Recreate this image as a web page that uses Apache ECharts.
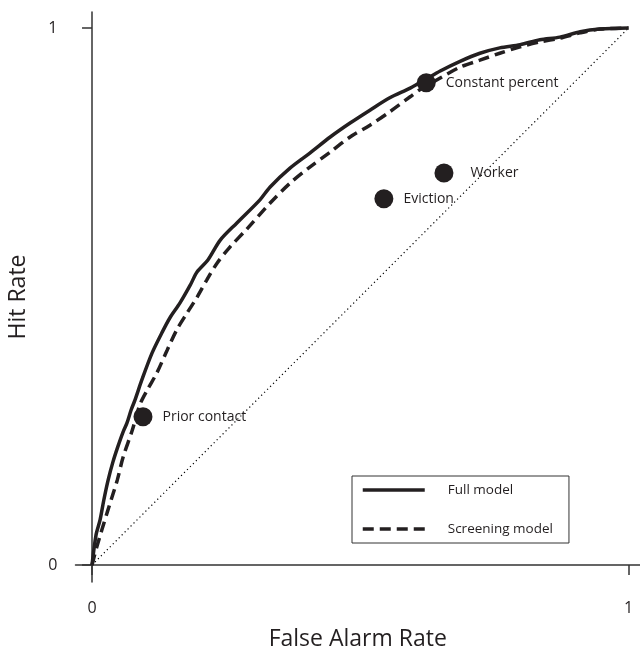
<!DOCTYPE html>
<html>
<head>
<meta charset="utf-8">
<script src="https://cdn.jsdelivr.net/npm/echarts@6/dist/echarts.min.js"></script>
<style>
  html, body { margin: 0; padding: 0; background: #fff; }
  #chart { width: 640px; height: 654px; }
</style>
</head>
<body>
<div id="chart"></div>
<script>
// ROC curves (false alarm rate, hit rate)
var fullX = [0, 0.0075, 0.015, 0.022, 0.030, 0.039, 0.048, 0.058, 0.065, 0.073, 0.080, 0.093, 0.112, 0.130, 0.145, 0.164, 0.183, 0.196, 0.216, 0.239, 0.270, 0.313, 0.332, 0.369, 0.406, 0.444, 0.481, 0.518, 0.555, 0.593, 0.623, 0.649, 0.686, 0.723, 0.760, 0.798, 0.835, 0.872, 0.910, 0.947, 1];
var fullY = [0, 0.056, 0.084, 0.121, 0.158, 0.192, 0.220, 0.248, 0.264, 0.289, 0.307, 0.345, 0.395, 0.432, 0.460, 0.488, 0.521, 0.546, 0.568, 0.605, 0.637, 0.680, 0.704, 0.739, 0.767, 0.797, 0.823, 0.847, 0.870, 0.888, 0.905, 0.920, 0.938, 0.953, 0.963, 0.969, 0.978, 0.983, 0.993, 0.998, 1];

var screenX = [0, 0.009, 0.028, 0.047, 0.058, 0.075, 0.089, 0.103, 0.121, 0.140, 0.158, 0.177, 0.196, 0.214, 0.233, 0.257, 0.289, 0.332, 0.369, 0.406, 0.444, 0.481, 0.518, 0.555, 0.593, 0.611, 0.649, 0.686, 0.723, 0.760, 0.798, 0.835, 0.872, 0.910, 0.947, 1];
var screenY = [0, 0.034, 0.097, 0.158, 0.201, 0.251, 0.298, 0.326, 0.358, 0.400, 0.438, 0.469, 0.499, 0.531, 0.562, 0.592, 0.626, 0.674, 0.711, 0.741, 0.769, 0.797, 0.819, 0.844, 0.872, 0.885, 0.907, 0.927, 0.940, 0.953, 0.965, 0.974, 0.981, 0.991, 0.998, 1];

var pointNames = ["Prior contact", "Eviction", "Worker", "Constant percent"];
var pointX = [0.095, 0.544, 0.656, 0.623];
var pointY = [0.276, 0.682, 0.730, 0.898];

var tickValues = [0, 1];
var seriesNames = ["Full model", "Screening model"];

var ink = "#231f20";
var font = "'Open Sans', 'Noto Sans', sans-serif";

function zip(xs, ys) {
  var out = [];
  for (var i = 0; i < xs.length; i++) out.push([xs[i], ys[i]]);
  return out;
}

var points = pointNames.map(function (n, i) {
  var item = { name: n, value: [pointX[i], pointY[i]] };
  if (n === "Worker") item.label = { distance: 17 };
  return item;
});

var chart = echarts.init(document.getElementById("chart"));
chart.setOption({
  animation: false,
  backgroundColor: "#fff",
  grid: { left: 75.5, right: 0, top: 12, bottom: 72, outerBoundsMode: "none", containLabel: false },
  legend: {
    data: seriesNames,
    orient: "vertical",
    left: 352,
    top: 476,
    itemWidth: 62,
    itemHeight: 14,
    itemGap: 25,
    padding: [7, 16, 7, 9],
    borderColor: "#333",
    borderWidth: 1,
    itemStyle: { opacity: 0 },
    lineStyle: { width: 3.5 },
    textStyle: { fontFamily: font, fontSize: 13.5, color: ink, padding: [0, 0, 0, 18] }
  },
  xAxis: {
    type: "value",
    min: -0.0308,
    max: 1.0214,
    name: "False Alarm Rate",
    nameLocation: "middle",
    nameGap: 46,
    nameTextStyle: { fontFamily: font, fontSize: 23, color: ink },
    axisLine: { lineStyle: { color: "#333", width: 1.5 } },
    axisTick: { customValues: tickValues, length: 10, lineStyle: { color: "#333", width: 1.5 } },
    axisLabel: { customValues: tickValues, margin: 18, fontFamily: font, fontSize: 16, color: ink },
    splitLine: { show: false }
  },
  yAxis: {
    type: "value",
    min: -0.0317,
    max: 1.0298,
    name: "Hit Rate",
    nameLocation: "middle",
    nameGap: 46,
    nameTextStyle: { fontFamily: font, fontSize: 23, color: ink },
    axisLine: { show: true, lineStyle: { color: "#333", width: 1.5 } },
    axisTick: { show: true, customValues: tickValues, length: 10, lineStyle: { color: "#333", width: 1.5 } },
    axisLabel: { customValues: tickValues, margin: 18, fontFamily: font, fontSize: 16, color: ink },
    splitLine: { show: false }
  },
  series: [
    {
      name: "chance",
      type: "line",
      data: [[0, 0], [1, 1]],
      symbol: "none",
      lineStyle: { color: "#000", width: 1.2, type: [1.2, 3] },
      z: 1
    },
    {
      name: seriesNames[0],
      type: "line",
      data: zip(fullX, fullY),
      symbol: "none",
      smooth: 0.3,
      itemStyle: { color: ink },
      lineStyle: { color: ink, width: 3.5 },
      z: 3
    },
    {
      name: seriesNames[1],
      type: "line",
      data: zip(screenX, screenY),
      symbol: "none",
      smooth: 0.3,
      itemStyle: { color: ink },
      lineStyle: { color: ink, width: 3.5, type: [11, 6] },
      z: 2
    },
    {
      name: "points",
      type: "scatter",
      data: points,
      symbol: "circle",
      symbolSize: 19,
      itemStyle: { color: ink, opacity: 1 },
      label: {
        show: true,
        position: "right",
        distance: 10,
        formatter: "{b}",
        fontFamily: font,
        fontSize: 14,
        color: ink
      },
      z: 4
    }
  ]
});
</script>
</body>
</html>
